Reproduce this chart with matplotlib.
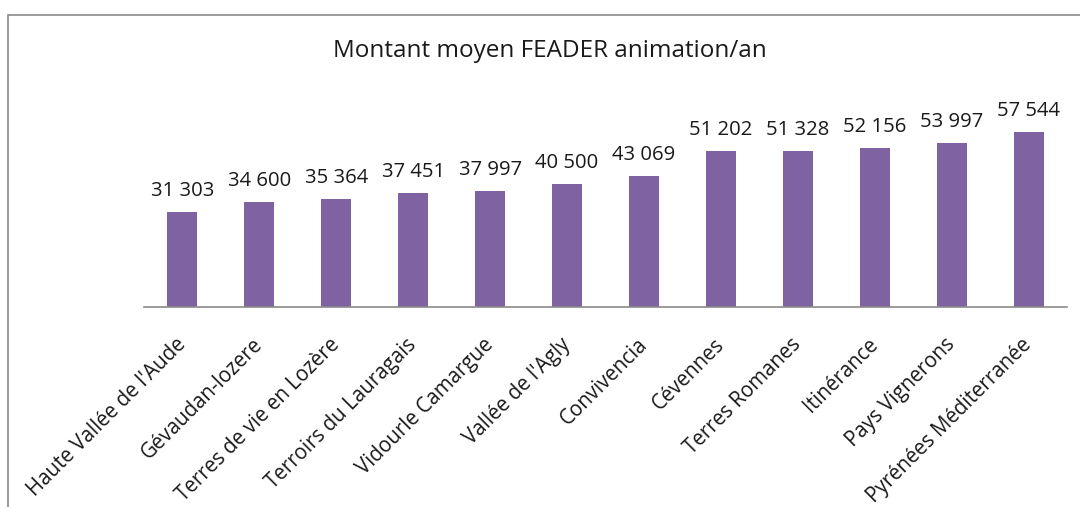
import matplotlib.pyplot as plt
from matplotlib.patches import Rectangle

categories = ["Haute Vallée de l'Aude", "Gévaudan-lozere", "Terres de vie en Lozère",
              "Terroirs du Lauragais", "Vidourle Camargue", "Vallée de l'Agly",
              "Convivencia", "Cévennes", "Terres Romanes", "Itinérance",
              "Pays Vignerons", "Pyrénées Méditerranée"]
values = [31303, 34600, 35364, 37451, 37997, 40500, 43069, 51202, 51328, 52156, 53997, 57544]
title = "Montant moyen FEADER animation/an"

plt.rcParams['font.family'] = ['Open Sans', 'DejaVu Sans']

fig = plt.figure(figsize=(10.8, 5.07), dpi=100)
ax = fig.add_axes([144/1080, 1 - 307/507, (1067 - 144)/1080, (307 - 94)/507])

# outer chart frame (left and top edges visible)
fig.patches.append(Rectangle((8/1080, -0.1), 1.2, 1 - 15/507 + 0.1, transform=fig.transFigure,
                             fill=False, edgecolor='#8a8a8a', linewidth=1.2))

x = range(len(categories))
bars = ax.bar(x, values, width=0.39, color='#7f62a1')

for xi, v in zip(x, values):
    label = f"{v:,}".replace(",", " ")
    ax.annotate(label, (xi, v), xytext=(0, 8), textcoords='offset points',
                ha='center', va='bottom', fontsize=14.6, color='#1a1a1a')

ax.set_xlim(-0.5, len(categories) - 0.5)
ax.set_ylim(0, 70000)
ax.set_yticks([])
ax.set_xticks(list(x))
ax.set_xticklabels(categories, rotation=45, ha='right', va='center', rotation_mode='anchor',
                   fontsize=14.8, color='#1a1a1a')
ax.tick_params(axis='x', length=0, pad=25)
for side in ['top', 'right', 'left']:
    ax.spines[side].set_visible(False)
ax.spines['bottom'].set_color('#8a8a8a')
ax.spines['bottom'].set_linewidth(1.2)

fig.text(550/1080, 1 - 51/507, title, ha='center', va='center', fontsize=17.5, color='#1a1a1a')

fig.savefig('out.png', dpi=100)
